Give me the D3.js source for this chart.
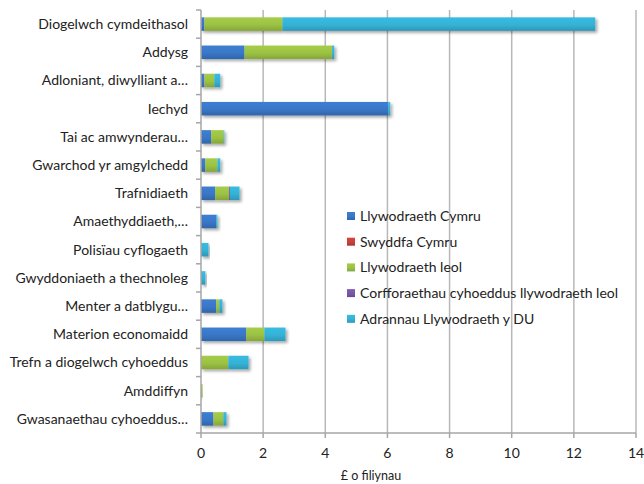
<!DOCTYPE html>
<html><head><meta charset="utf-8">
<script src="https://cdn.jsdelivr.net/npm/d3@7"></script>
<style>body{margin:0;background:#fff}svg{display:block}text{font-family:Lato,"Open Sans",sans-serif;fill:#222}</style>
</head><body>
<svg id="c" width="644" height="484"></svg>
<script>
const categories = ["Diogelwch cymdeithasol","Addysg","Adloniant, diwylliant a…","Iechyd","Tai ac amwynderau…","Gwarchod yr amgylchedd","Trafnidiaeth","Amaethyddiaeth,…","Polisïau cyflogaeth","Gwyddoniaeth a thechnoleg","Menter a datblygu…","Materion economaidd","Trefn a diogelwch cyhoeddus","Amddiffyn","Gwasanaethau cyhoeddus…"];
const seriesNames = ["Llywodraeth Cymru","Swyddfa Cymru","Llywodraeth leol","Corfforaethau cyhoeddus llywodraeth leol","Adrannau Llywodraeth y DU"];
const llywodraethCymru = [0.11,1.40,0.11,6.03,0.33,0.14,0.46,0.49,0,0,0.49,1.46,0,0,0.40];
const swyddfaCymru     = [0,0,0,0,0,0,0,0,0,0,0,0,0,0,0];
const llywodraethLeol  = [2.51,2.82,0.32,0,0.40,0.39,0.44,0,0,0,0.10,0.58,0.88,0.05,0.32];
const corfforaethau    = [0,0,0,0,0,0,0.03,0,0,0,0,0,0,0,0];
const adrannauDU       = [10.07,0.07,0.19,0.06,0.02,0.09,0.31,0.04,0.24,0.14,0.10,0.68,0.65,0,0.10];
const xTicks = [0,2,4,6,8,10,12,14];
const colors = ["#3a77c7","#c9413d","#9cc244","#7a56a8","#35b2d6"];

const svg = d3.select("#c");
const L=201, R=636, T=10, B=433;
const x = d3.scaleLinear().domain([0,14]).range([L,R]);
const y = d3.scaleBand().domain(categories).range([T,B]).paddingInner(0.52).paddingOuter(0.26);
const yb = d3.scaleBand().domain(categories).range([T,B]);

const defs = svg.append("defs");
colors.forEach((c,i)=>{
  const g = defs.append("linearGradient").attr("id","g"+i).attr("x1",0).attr("y1",0).attr("x2",0).attr("y2",1);
  g.append("stop").attr("offset","0%").attr("stop-color",d3.color(c).brighter(0.15));
  g.append("stop").attr("offset","55%").attr("stop-color",c);
  g.append("stop").attr("offset","100%").attr("stop-color",d3.color(c).darker(0.45));
});
const f = defs.append("filter").attr("id","sh").attr("x","-10%").attr("y","-30%").attr("width","130%").attr("height","180%");
f.append("feGaussianBlur").attr("in","SourceAlpha").attr("stdDeviation",1.5);
f.append("feOffset").attr("dx",2).attr("dy",2).attr("result","b");
f.append("feComponentTransfer").append("feFuncA").attr("type","linear").attr("slope",0.35);
const m=f.append("feMerge"); m.append("feMergeNode"); m.append("feMergeNode").attr("in","SourceGraphic");

// gridlines
svg.append("g").selectAll("line").data(xTicks.slice(1)).join("line")
  .attr("x1",d=>x(d)).attr("x2",d=>x(d)).attr("y1",T).attr("y2",B)
  .attr("stroke","#b8b8b8").attr("stroke-width",1.5);

const data = [llywodraethCymru,swyddfaCymru,llywodraethLeol,corfforaethau,adrannauDU];
const rows = categories.map((c,i)=>{const o={cat:c}; data.forEach((s,j)=>o["s"+j]=s[i]); return o;});
const stack = d3.stack().keys(data.map((_,j)=>"s"+j))(rows);

const barsG = svg.append("g");
categories.forEach((c,i)=>{
  const g = barsG.append("g").attr("filter","url(#sh)");
  stack.forEach((layer,j)=>{
    const d = layer[i];
    if(d[1]-d[0] <= 0) return;
    g.append("rect").attr("x",x(d[0])).attr("width",x(d[1])-x(d[0]))
      .attr("y",y(c)).attr("height",y.bandwidth()).attr("fill","url(#g"+j+")");
  });
});

// axes
svg.append("line").attr("x1",L).attr("x2",L).attr("y1",T).attr("y2",B).attr("stroke","#a6a6a6").attr("stroke-width",1.5);
svg.append("line").attr("x1",L).attr("x2",R).attr("y1",B).attr("y2",B).attr("stroke","#a6a6a6").attr("stroke-width",1.5);
const bounds = categories.map(c=>yb(c)).concat([B]);
svg.append("g").selectAll("line").data(bounds).join("line")
  .attr("x1",L-5).attr("x2",L).attr("y1",d=>d).attr("y2",d=>d).attr("stroke","#a6a6a6").attr("stroke-width",1.5);
svg.append("g").selectAll("line").data(xTicks).join("line")
  .attr("x1",d=>x(d)).attr("x2",d=>x(d)).attr("y1",B).attr("y2",B+5).attr("stroke","#a6a6a6").attr("stroke-width",1.5);
svg.append("g").selectAll("text").data(xTicks).join("text")
  .attr("x",d=>x(d)).attr("y",B+20).attr("dy","0.35em").attr("text-anchor","middle").attr("font-size",14).text(d=>d);
svg.append("g").selectAll("text").data(categories).join("text")
  .attr("x",L-13).attr("y",d=>yb(d)+yb.bandwidth()/2).attr("dy","0.35em")
  .attr("text-anchor","end").attr("font-size",14).text(d=>d);
svg.append("text").attr("x",371).attr("y",476).attr("dy","0.35em").attr("text-anchor","middle").attr("font-size",12.5).text("£ o filiynau");

// legend
const lg = svg.append("g").attr("transform","translate(347,216)");
seriesNames.forEach((n,j)=>{
  const g = lg.append("g").attr("transform",`translate(0,${j*25.7})`);
  g.append("rect").attr("x",0).attr("y",-4).attr("width",8).attr("height",8).attr("fill","url(#g"+j+")");
  g.append("text").attr("x",13).attr("y",0).attr("dy","0.35em").attr("font-size",14).text(n);
});
</script>
</body></html>
